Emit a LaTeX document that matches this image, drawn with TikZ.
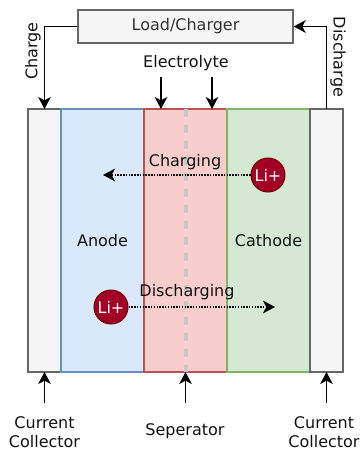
\documentclass[tikz,border=0pt]{standalone}
\usepackage{fontspec}
\setmainfont{DejaVu Sans}
\usetikzlibrary{arrows.meta,positioning}
\definecolor{CellGray}{HTML}{F5F5F5}
\definecolor{CellEdge}{HTML}{666666}
\definecolor{AnodeFill}{HTML}{DAE8FC}
\definecolor{AnodeEdge}{HTML}{6C8EBF}
\definecolor{ElyteFill}{HTML}{F8CECC}
\definecolor{ElyteEdge}{HTML}{B85450}
\definecolor{CathFill}{HTML}{D5E8D4}
\definecolor{CathEdge}{HTML}{82B366}
\definecolor{IonFill}{HTML}{A20025}
\definecolor{IonEdge}{HTML}{6F0000}
\definecolor{SepGray}{HTML}{C8C8C8}
\definecolor{TextDark}{HTML}{111111}

\begin{document}
\begin{tikzpicture}[
    x=0.75pt,y=-0.75pt,
    font=\fontsize{12}{14.4}\selectfont,text=TextDark,
    node distance=0pt,
    layer/.style={draw,outer sep=0pt,inner sep=0pt,line width=1pt,
      minimum height=197.25pt},
    collector/.style={layer,fill=CellGray,draw=CellEdge,minimum width=24.75pt},
    anodebox/.style={layer,fill=AnodeFill,draw=AnodeEdge,minimum width=62.25pt},
    elytebox/.style={layer,fill=ElyteFill,draw=ElyteEdge,minimum width=62.25pt},
    cathbox/.style={layer,fill=CathFill,draw=CathEdge,minimum width=62.25pt},
    loadbox/.style={draw=CellEdge,fill=CellGray,line width=1pt,text=black!80,
      minimum width=161.25pt,minimum height=24.75pt},
    ion/.style={circle,fill=IonFill,draw=IonEdge,line width=0.75pt,text=white,
      minimum size=25.5pt,inner sep=0pt},
    arr/.style={-{Stealth[length=9pt,width=9.5pt,inset=2.5pt]},line width=1.2pt,draw=black},
    dotarr/.style={-{Stealth[length=9pt,width=9.5pt,inset=2.5pt]},line width=1.1pt,
      densely dotted,draw=black},
    sepline/.style={draw=SepGray,line width=3pt,dash pattern=on 6pt off 6pt}
  ]
    \useasboundingbox (0,0) rectangle (363,451);
    \node[collector,anchor=north west] (ccleft) at (28,109) {};
    \node[anodebox,right=of ccleft] (anode) {Anode};
    \node[elytebox,right=of anode] (elyte) {};
    \node[cathbox,right=of elyte] (cathode) {Cathode};
    \node[collector,right=of cathode] (ccright) {};
    \draw[sepline] (elyte.north) -- (elyte.south);
    \node[loadbox] (load) at (185.5,26.5) {Load/Charger};
    \node[rotate=90] (chargelbl) at (33,51) {Charge};
    \node[rotate=-90] (dischargelbl) at (338,57) {Discharge};
    \draw[arr] (load.west) -| (ccleft.north);
    \draw[arr] (ccright.north) |- (load.east);
    \node (elytelbl) at (186,63) {Electrolyte};
    \coordinate (elyteinl) at (161,77);
    \coordinate (elyteinr) at (212,77);
    \draw[arr] (elyteinl) -- (elyteinl |- elyte.north);
    \draw[arr] (elyteinr) -- (elyteinr |- elyte.north);
    \node (chlbl) at (185,162) {Charging};
    \node[ion] (ionch) at (268,175) {Li+};
    \coordinate (chend) at (103,175);
    \draw[dotarr] (ionch) -- (chend);
    \node (dislbl) at (187,292) {Discharging};
    \node[ion] (iondis) at (111,307) {Li+};
    \coordinate (disend) at (275,307);
    \draw[dotarr] (iondis) -- (disend);
    \node[align=center] (cclbll) at (44.5,432) {Current\\Collector};
    \node[align=center] (cclblr) at (324,432) {Current\\Collector};
    \node (seplbl) at (185,431) {Seperator};
    \coordinate (ccfootl) at (44.5,403);
    \coordinate (ccfootr) at (326.5,403);
    \coordinate (sepfoot) at (185.5,403);
    \draw[arr] (ccfootl) -- (ccfootl |- ccleft.south);
    \draw[arr] (ccfootr) -- (ccfootr |- ccright.south);
    \draw[arr] (sepfoot) -- (sepfoot |- elyte.south);
  \end{tikzpicture}
\end{document}
